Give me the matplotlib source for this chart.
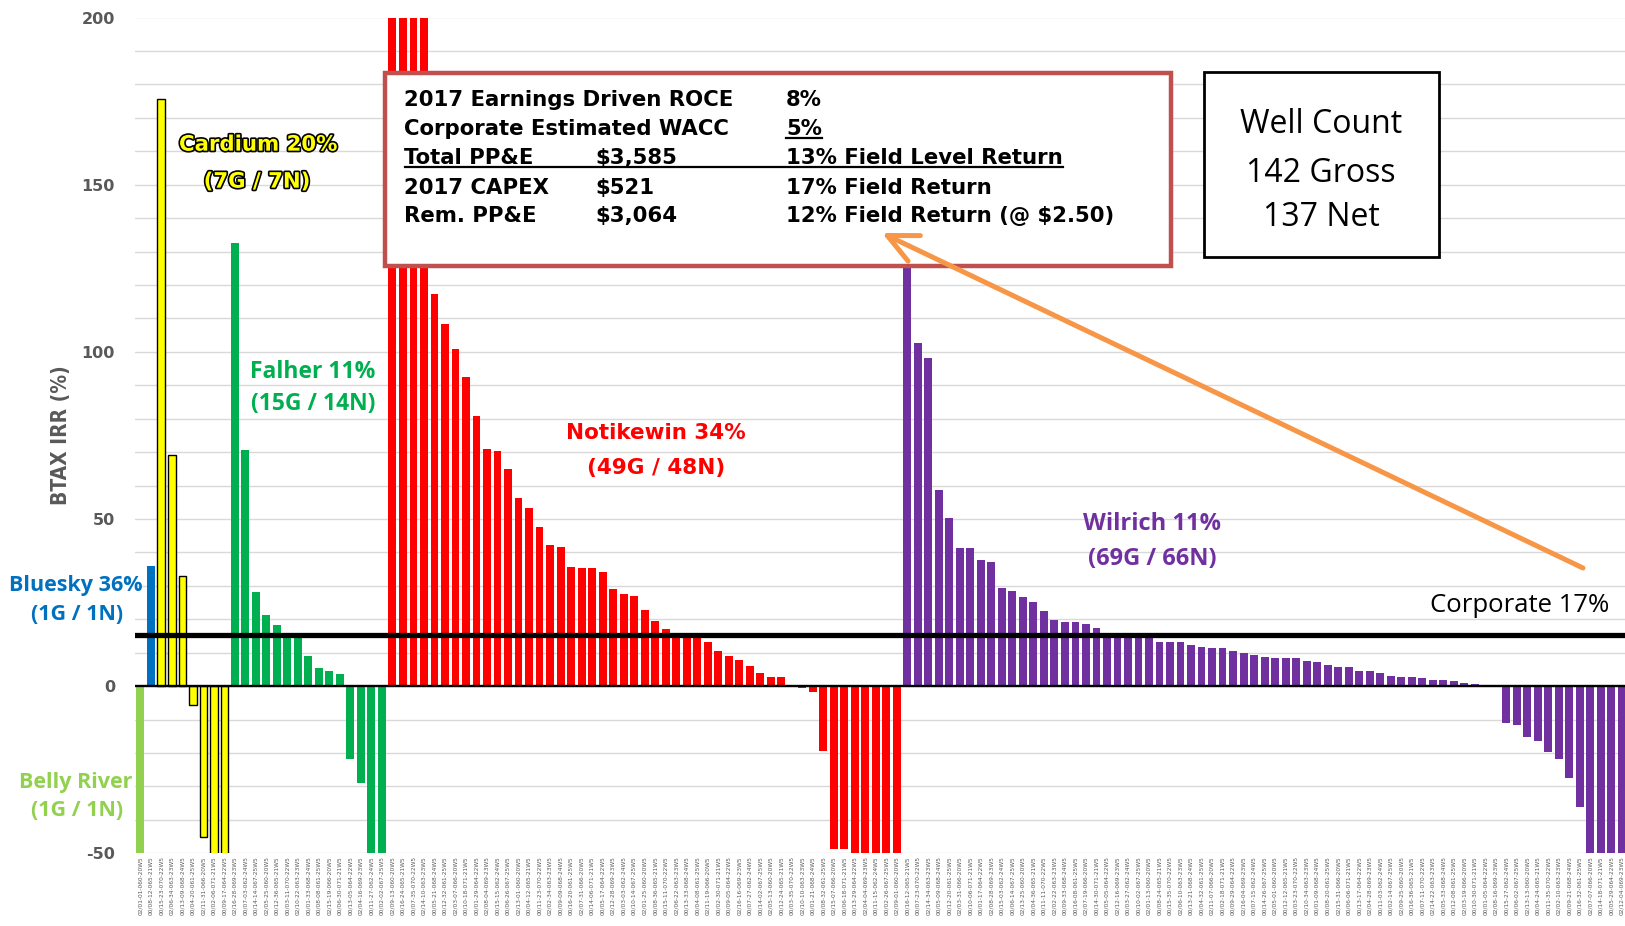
import matplotlib
matplotlib.use("Agg")
import matplotlib.pyplot as plt
import matplotlib.patheffects as pe
from matplotlib.patches import Rectangle, FancyArrowPatch, ArrowStyle
from matplotlib.lines import Line2D

# ---------------- data ----------------
belly_river = [-75]
bluesky = [36]
cardium = [175.5, 69, 33, -5.6, -45, -75, -75]
falher = [132.6, 70.5, 28.2, 21.2, 18.4, 15.5, 15.5, 9.1, 5.4, 4.6, 3.7,
          -21.9, -29.1, -75, -75]
notikewin = [250, 250, 250, 250, 117.3, 108.3, 100.9, 92.6, 80.9, 71, 70.3,
             65, 56.4, 53.4, 47.7, 42.2, 41.7, 35.7, 35.3, 35.2, 34.1, 29.2,
             27.6, 27, 22.8, 19.4, 17.1, 15.5, 15.5, 15.3, 13.3, 10.6, 9, 7.8,
             6, 3.9, 2.8, 2.8, 0.2, -0.7, -1.8, -19.4, -48.6, -48.6,
             -75, -75, -75, -75, -75]
wilrich = [150, 102.6, 98.2, 58.7, 50.2, 41.4, 41.2, 37.8, 37.2, 29.5, 28.4,
           26.6, 25.1, 22.4, 19.7, 19.1, 19.1, 18.7, 17.3, 15.5, 15.4, 15.3,
           15.2, 14.5, 13.2, 13.2, 13.2, 12.3, 11.7, 11.4, 11.4, 10.6, 10,
           9.4, 8.8, 8.4, 8.3, 8.3, 7.4, 7.1, 6.2, 5.6, 5.6, 4.4, 4.4, 3.8,
           2.9, 2.6, 2.6, 2.3, 1.7, 1.7, 1.4, 0.8, 0.5, 0.1, 0.05,
           -11.1, -11.5, -15.1, -16.3, -19.8, -21.9, -27.6, -36.3,
           -75, -75, -75, -75]
corporate_line = 15.2

groups = [
    ("Belly River", belly_river, "#92D050", None),
    ("Bluesky", bluesky, "#0070C0", None),
    ("Cardium", cardium, "#FFFF00", "black"),
    ("Falher", falher, "#00B050", None),
    ("Notikewin", notikewin, "#FF0000", None),
    ("Wilrich", wilrich, "#7030A0", None),
]
n_wells = sum(len(g[1]) for g in groups)
# well identifiers (illegible in the source, UWI style)
well_ids = ["%02d/%02d-%02d-0%02d-%02dW5" % (0 if i % 3 else 2, (i * 7) % 16 + 1,
            (i * 11) % 36 + 1, 60 + (i * 5) % 12, 20 + i % 6) for i in range(n_wells)]

yticks_major = [-50, 0, 50, 100, 150, 200]

# ---------------- figure ----------------
W, H = 1625, 926
fig = plt.figure(figsize=(W / 100, H / 100), dpi=100)
fig.patch.set_facecolor("white")


def fx(x):
    return x / W


def fy(y):
    return 1 - y / H


ax_left, ax_right, ax_top, ax_bot = 135, 1625, 17.5, 853.3
ax = fig.add_axes([fx(ax_left), fy(ax_bot), (ax_right - ax_left) / W, (ax_bot - ax_top) / H])

start = 0
for name, vals, color, edge in groups:
    xs = list(range(start, start + len(vals)))
    if edge:
        ax.bar(xs, vals, width=0.72, color=color, edgecolor=edge, linewidth=1.0, zorder=2)
    else:
        ax.bar(xs, vals, width=0.75, color=color, linewidth=0, zorder=2)
    start += len(vals)

ax.set_xlim(-0.5, 141.3)
ax.set_ylim(-50, 200)
for s in ax.spines.values():
    s.set_visible(False)

ax.set_yticks(yticks_major)
ax.set_yticklabels([str(v) for v in yticks_major], fontsize=11.5, fontweight="bold",
                   color="#595959", family="DejaVu Sans")
ax.set_yticks(range(-50, 201, 10), minor=True)
ax.tick_params(axis="y", which="both", length=0, pad=14.4)
ax.grid(which="both", axis="y", color="#D9D9D9", lw=1.0, zorder=0)
ax.set_axisbelow(True)

ax.set_xticks(range(n_wells))
ax.set_xticklabels(well_ids, rotation=90, fontsize=4.2, color="#595959", va="top")
ax.tick_params(axis="x", length=0, pad=2)

ax.axhline(0, color="black", lw=1.7, zorder=3)
ax.axhline(corporate_line, color="black", lw=3.8, zorder=4)

# y label
fig.text(fx(61), fy(435), "BTAX IRR (%)", rotation=90, ha="center", va="center",
         fontsize=15, fontweight="bold", color="#595959", fontstretch="condensed",
         family=["DejaVu Sans"])


def label(x, ycap, s, color, size, family="Open Sans", weight="bold", ha="center", **kw):
    em = size * 100 / 72
    return fig.text(fx(x), fy(ycap + 0.36 * em), s, ha=ha, va="baseline", color=color,
                    fontsize=size, fontweight=weight, family=family, **kw)


# group labels
label(76, 583, "Bluesky 36%", "#0070C0", 15.5)
label(77, 612, "(1G / 1N)", "#0070C0", 15.5)
label(76, 780, "Belly River", "#92D050", 15.5)
label(77, 808, "(1G / 1N)", "#92D050", 15.5)
stroke = [pe.withStroke(linewidth=2.4, foreground="black")]
label(258, 143, "Cardium 20%", "#FFFF00", 15.3, family="DejaVu Sans", path_effects=stroke)
label(257, 180, "(7G / 7N)", "#FFFF00", 15.3, family="DejaVu Sans", path_effects=stroke)
label(313, 370, "Falher 11%", "#00B050", 16.5)
label(313, 402, "(15G / 14N)", "#00B050", 16.5)
label(656, 431, "Notikewin 34%", "#FF0000", 15.5, family="DejaVu Sans")
label(656, 466, "(49G / 48N)", "#FF0000", 15.5, family="DejaVu Sans")
label(1152, 522, "Wilrich 11%", "#7030A0", 17)
label(1152, 557, "(69G / 66N)", "#7030A0", 17)
label(1520, 603, "Corporate 17%", "black", 18.5, weight="normal")

# ROCE box
fig.add_artist(Rectangle((fx(384.7), fy(266)), (1171 - 384.7) / W, (266 - 73) / H,
                         transform=fig.transFigure, facecolor="white",
                         edgecolor="#C0504D", lw=3.2, zorder=5))
rows = [
    ("2017 Earnings Driven ROCE", "", "8%"),
    ("Corporate Estimated WACC", "", "5%"),
    ("Total PP&E", r"\$3,585", "13% Field Level Return"),
    ("2017 CAPEX", r"\$521", "17% Field Return"),
    ("Rem. PP&E", r"\$3,064", "12% Field Return (@ \$2.50)"),
]
row_caps = [98.3, 127.7, 156, 186, 214]
cols = [404.5, 595, 786]
box_texts = {}
for r, (row, yc) in enumerate(zip(rows, row_caps)):
    for c, (s, xc) in enumerate(zip(row, cols)):
        if s:
            t = label(xc, yc, s, "black", 15.3, family="DejaVu Sans", ha="left", zorder=6)
            box_texts[(r, c)] = t

fig.canvas.draw()
renderer = fig.canvas.get_renderer()


def underline(x0px, x1px, ypx, lw=1.6):
    fig.add_artist(Line2D([fx(x0px), fx(x1px)], [fy(ypx), fy(ypx)], transform=fig.transFigure,
                          color="black", lw=lw, zorder=6))


bb = box_texts[(1, 2)].get_window_extent(renderer)
underline(bb.x0, bb.x1, 138.3)
bb0 = box_texts[(2, 0)].get_window_extent(renderer)
bb2 = box_texts[(2, 2)].get_window_extent(renderer)
underline(bb0.x0, bb2.x1, 166.7)

# Well count box
fig.add_artist(Rectangle((fx(1204), fy(257)), (1439 - 1204) / W, (257 - 71.7) / H,
                         transform=fig.transFigure, facecolor="white",
                         edgecolor="black", lw=2.0, zorder=5))
label(1321, 121.7, "Well Count", "black", 23, weight="normal", zorder=6)
label(1321, 170, "142 Gross", "black", 23, weight="normal", zorder=6)
label(1321, 215, "137 Net", "black", 23, weight="normal", zorder=6)

# orange arrow
arrow = FancyArrowPatch((fx(1583), fy(568)), (fx(882), fy(233)), transform=fig.transFigure,
                        arrowstyle=ArrowStyle("->", head_length=21.5, head_width=10.2),
                        mutation_scale=1, lw=3.6, color="#F79646", shrinkA=0, shrinkB=0,
                        zorder=7)
fig.add_artist(arrow)

fig.savefig("out.png", dpi=100, facecolor="white")
